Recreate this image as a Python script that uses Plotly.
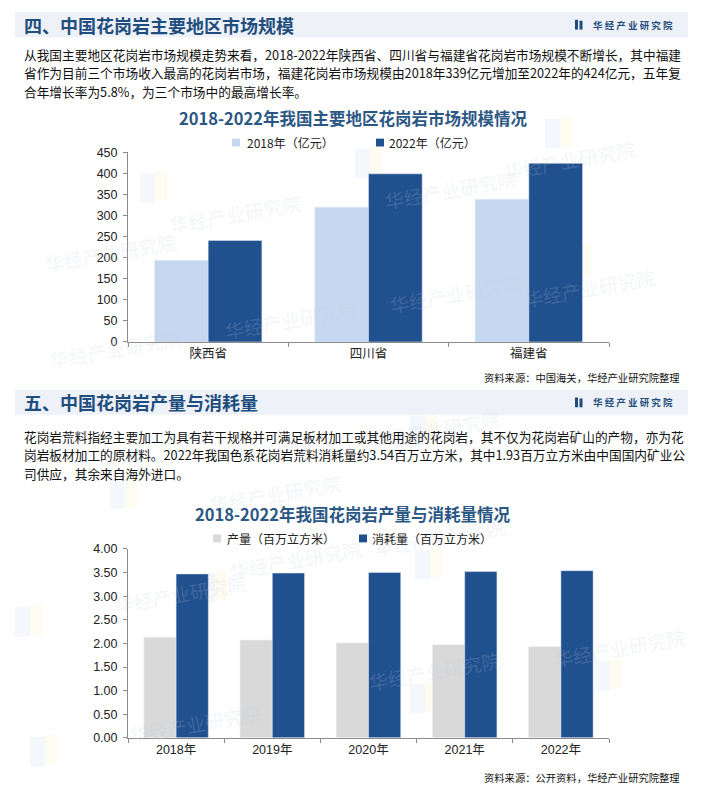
import plotly.graph_objects as go

W, H = 705, 792

# ---------------- data ----------------
regions = ["陕西省", "四川省", "福建省"]
market_2018 = [194, 320, 339]
market_2022 = [241, 399, 424]
region_series = ["2018年（亿元）", "2022年（亿元）"]

years = ["2018年", "2019年", "2020年", "2021年", "2022年"]
production = [2.13, 2.07, 2.01, 1.97, 1.93]
consumption = [3.47, 3.49, 3.50, 3.52, 3.54]
prod_series = ["产量（百万立方米）", "消耗量（百万立方米）"]

y1_ticks = [0, 50, 100, 150, 200, 250, 300, 350, 400, 450]
y2_ticks = [0.0, 0.5, 1.0, 1.5, 2.0, 2.5, 3.0, 3.5, 4.0]

head1 = "四、中国花岗岩主要地区市场规模"
head2 = "五、中国花岗岩产量与消耗量"
para1 = [
    "从我国主要地区花岗岩市场规模走势来看，2018-2022年陕西省、四川省与福建省花岗岩市场规模不断增长，其中福建",
    "省作为目前三个市场收入最高的花岗岩市场，福建花岗岩市场规模由2018年339亿元增加至2022年的424亿元，五年复",
    "合年增长率为5.8%，为三个市场中的最高增长率。",
]
para2 = [
    "花岗岩荒料指经主要加工为具有若干规格并可满足板材加工或其他用途的花岗岩，其不仅为花岗岩矿山的产物，亦为花",
    "岗岩板材加工的原材料。2022年我国色系花岗岩荒料消耗量约3.54百万立方米，其中1.93百万立方米由中国国内矿业公",
    "司供应，其余来自海外进口。",
]
title1 = "2018-2022年我国主要地区花岗岩市场规模情况"
title2 = "2018-2022年我国花岗岩产量与消耗量情况"
source1 = "资料来源：中国海关，华经产业研究院整理"
source2 = "资料来源：公开资料，华经产业研究院整理"
brand = "华 经 产 业 研 究 院"

# ---------------- styles ----------------
LIGHT = "#c6d8ef"
DARK = "#21508f"
GRAY = "#d9d9d9"
HEAD = "#1f4e7e"
TITLE = "#2b5784"
CJK = "Noto Sans CJK SC"
LAT = "Liberation Sans, Arial, Noto Sans CJK SC"


def px(x):
    return x / W


def py(y):
    return 1 - y / H


fig = go.Figure()
fig.add_trace(go.Bar(x=regions, y=market_2018, name=region_series[0], marker_color=LIGHT,
                     xaxis="x", yaxis="y", showlegend=False))
fig.add_trace(go.Bar(x=regions, y=market_2022, name=region_series[1], marker_color=DARK,
                     xaxis="x", yaxis="y", showlegend=False))
fig.add_trace(go.Bar(x=years, y=production, name=prod_series[0], marker_color=GRAY,
                     xaxis="x2", yaxis="y2", showlegend=False))
fig.add_trace(go.Bar(x=years, y=consumption, name=prod_series[1], marker_color=DARK,
                     xaxis="x2", yaxis="y2", showlegend=False))

axis_common = dict(showline=True, linecolor="#8c8c8c", linewidth=1, showgrid=False,
                   zeroline=False, ticks="outside", ticklen=4, tickcolor="#8c8c8c")

fig.update_layout(
    width=W, height=H, margin=dict(l=0, r=0, t=0, b=0),
    paper_bgcolor="white", plot_bgcolor="rgba(0,0,0,0)",
    barmode="group", bargap=0.33, bargroupgap=0,
    xaxis=dict(domain=[px(128), px(609)], anchor="y", type="category", tickson="boundaries",
               tickfont=dict(family=CJK, size=12.5, color="#222"), **axis_common),
    yaxis=dict(domain=[py(341), py(148)], anchor="x", range=[0, 450], tickvals=y1_ticks,
               tickfont=dict(family=LAT, size=12.5, color="#222"), ticklabelstandoff=3,
               **axis_common),
    xaxis2=dict(domain=[px(128), px(609)], anchor="y2", type="category", tickson="boundaries",
                tickfont=dict(family=LAT, size=12.5, color="#222"), **axis_common),
    yaxis2=dict(domain=[py(744), py(551.7)], anchor="x2", range=[0, 4], tickvals=y2_ticks,
                tickformat=".2f", tickfont=dict(family=LAT, size=12.5, color="#222"),
                ticklabelstandoff=3, **axis_common),
)

shapes = []
ann = []

# faint watermarks (logo block + brand text)
wm_pos = [(235, 183), (450, 158), (640, 128), (40, 222), (290, 318), (660, 258), (455, 292),
          (45, 348), (510, 567), (295, 590), (110, 625), (505, 703), (125, 757), (690, 680),
          (205, 495), (505, 430)]
for (wx, wy) in wm_pos:
    shapes.append(dict(type="rect", xref="paper", yref="paper", x0=px(wx - 95), x1=px(wx - 80),
                       y0=py(wy + 16), y1=py(wy - 14), fillcolor="rgba(170,195,235,0.13)",
                       line_width=0, layer="below"))
    shapes.append(dict(type="rect", xref="paper", yref="paper", x0=px(wx - 80), x1=px(wx - 68),
                       y0=py(wy + 14), y1=py(wy - 16), fillcolor="rgba(250,225,140,0.13)",
                       line_width=0, layer="below"))
    ann.append(dict(x=px(wx), y=py(wy), xref="paper", yref="paper", text="华经产业研究院",
                    showarrow=False, textangle=-10,
                    font=dict(family=CJK, size=19, color="rgba(190,202,222,0.2)")))

# section header bands
for (y0, y1, txt) in [(5, 31, head1), (390, 415, head2)]:
    shapes.append(dict(type="rect", xref="paper", yref="paper", x0=px(15), x1=px(688),
                       y0=py(y1), y1=py(y0), fillcolor="#eef2f8", line_width=0, layer="below"))
    yc = (y0 + y1) / 2
    ann.append(dict(x=px(22), y=py(yc), xref="paper", yref="paper", text="<b>%s</b>" % txt,
                    showarrow=False, xanchor="left", yanchor="middle",
                    font=dict(family=CJK, size=18, color=HEAD)))
    # brand logo
    shapes.append(dict(type="rect", xref="paper", yref="paper", x0=px(575), x1=px(578),
                       y0=py(yc + 5), y1=py(yc - 5), fillcolor=HEAD, line_width=0))
    shapes.append(dict(type="rect", xref="paper", yref="paper", x0=px(579.5), x1=px(582.5),
                       y0=py(yc + 5), y1=py(yc - 4), fillcolor=HEAD, line_width=0))
    ann.append(dict(x=px(591), y=py(yc), xref="paper", yref="paper", text="<b>%s</b>" % brand,
                    showarrow=False, xanchor="left", yanchor="middle",
                    font=dict(family=CJK, size=9.5, color=HEAD)))

# paragraphs
for lines, ys in [(para1, [48, 67, 86]), (para2, [437, 456, 475])]:
    for t, yy in zip(lines, ys):
        ann.append(dict(x=px(22), y=py(yy), xref="paper", yref="paper", text=t,
                        showarrow=False, xanchor="left", yanchor="middle",
                        font=dict(family=CJK, size=12.7, color="#111")))

# chart titles
ann.append(dict(x=px(353), y=py(113), xref="paper", yref="paper", text="<b>%s</b>" % title1,
                showarrow=False, xanchor="center", yanchor="middle",
                font=dict(family=CJK, size=16.5, color=TITLE)))
ann.append(dict(x=px(353), y=py(516), xref="paper", yref="paper", text="<b>%s</b>" % title2,
                showarrow=False, xanchor="center", yanchor="middle",
                font=dict(family=CJK, size=16.5, color=TITLE)))

# legends
legend_items = [
    (region_series[0], LIGHT, 236, 245, 138),
    (region_series[1], DARK, 380, 387, 138),
    (prod_series[0], GRAY, 217, 225, 541),
    (prod_series[1], DARK, 363, 370, 541),
]
for name, col, sx, tx, yy in legend_items:
    shapes.append(dict(type="rect", xref="paper", yref="paper", x0=px(sx - 4), x1=px(sx + 4),
                       y0=py(yy + 4), y1=py(yy - 4), fillcolor=col, line_width=0))
    ann.append(dict(x=px(tx), y=py(yy), xref="paper", yref="paper", text=name,
                    showarrow=False, xanchor="left", yanchor="middle",
                    font=dict(family=CJK, size=12, color="#222")))

# sources
ann.append(dict(x=px(682), y=py(377), xref="paper", yref="paper", text=source1,
                showarrow=False, xanchor="right", yanchor="middle",
                font=dict(family=CJK, size=10.3, color="#111")))
ann.append(dict(x=px(682), y=py(784), xref="paper", yref="paper", text=source2,
                showarrow=False, xanchor="right", yanchor="middle",
                font=dict(family=CJK, size=10.3, color="#111")))

fig.update_layout(shapes=shapes, annotations=ann)
fig.write_html("out.html")
